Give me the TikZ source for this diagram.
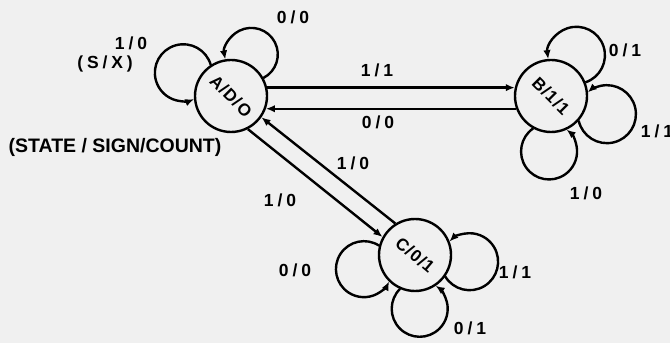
\documentclass[tikz,border=0pt]{standalone}
\usepackage{fontspec}
\usepackage{graphicx}
\setmainfont{Liberation Sans}
\newfontfamily\lettering{Liberation Sans}[LetterSpace=22]
\newfontfamily\statefont{Liberation Sans}[LetterSpace=6]
\newfontfamily\legendfont{Liberation Sans}
\usetikzlibrary{arrows.meta,calc}
\definecolor{paper}{gray}{0.94}
% self loop on a state: node, direction of the loop centre, its distance, loop radius
\newcommand\selfloop[4]{%
  \pgfmathsetmacro\loopalpha{acos((#3*#3+#4*#4-37*37)/(2*#3*#4))}%
  \draw[arr] ($(#1)+(#2:#3)$) ++({#2+180+\loopalpha}:#4)
    arc[start angle={#2+180+\loopalpha}, end angle={#2+540-\loopalpha}, radius=#4];%
}
\begin{document}
\begin{tikzpicture}[x=1pt,y=1pt,
  state/.style={circle, draw, line width=2.4pt, minimum size=72pt, inner sep=0pt,
    font=\statefont\bfseries\fontsize{17}{17}\selectfont},
  arr/.style={-{Latex[length=9pt,width=7.5pt]}, line width=2.4pt},
  lbl/.style={font=\lettering\bfseries\fontsize{17.5}{17.5}\selectfont, inner sep=0pt},
  legend/.style={font=\legendfont\bfseries\fontsize{19.5}{19.5}\selectfont, inner sep=0pt}]
\fill[paper] (0,0) rectangle (670,343);
\useasboundingbox (0,0) rectangle (670,343);

% states
\node[state] (A) at (231,247) {\rotatebox{-45}{A/D/O}};
\node[state] (B) at (551,247) {\rotatebox{-45}{B/1/1}};
\node[state] (C) at (415,88)  {\rotatebox{-40}{C/0/1}};

% transitions between states
\draw[arr] (A.13) -- (B.167);
\draw[arr] (B.-160) -- (A.-20);
\draw[arr] (A.-63) -- (C.151);
\draw[arr] (C.122) -- (A.-35);

% self loops
\selfloop{A}{64}{46.3}{26.5}
\selfloop{A}{154}{53}{28.5}
\selfloop{B}{58}{48}{28.5}
\selfloop{B}{-18}{58.8}{29}
\selfloop{B}{-92}{55.5}{28}
\selfloop{C}{195.5}{53}{28}
\selfloop{C}{-7}{55}{28.5}
\selfloop{C}{-85}{54}{28}

% input/output labels
\node[lbl] (lAA0) at (293,326) {0/0};
\node[lbl] (lAA1) at (131,300) {1/0};
\node[lbl] (lSX)  at (105,279) {(S/X)};
\node[legend] (key) at (115,196) {(STATE / SIGN/COUNT)};
\node[lbl] (lAB)  at (377,273) {1/1};
\node[lbl] (lBA)  at (378,221) {0/0};
\node[lbl] (lCA)  at (353,180) {1/0};
\node[lbl] (lAC)  at (280,143) {1/0};
\node[lbl] (lBB0) at (625,293) {0/1};
\node[lbl] (lBB1) at (657,212) {1/1};
\node[lbl] (lBB2) at (586,150) {1/0};
\node[lbl] (lCC0) at (295,73)  {0/0};
\node[lbl] (lCC1) at (515,71)  {1/1};
\node[lbl] (lCC2) at (470,15)  {0/1};
\end{tikzpicture}
\end{document}
